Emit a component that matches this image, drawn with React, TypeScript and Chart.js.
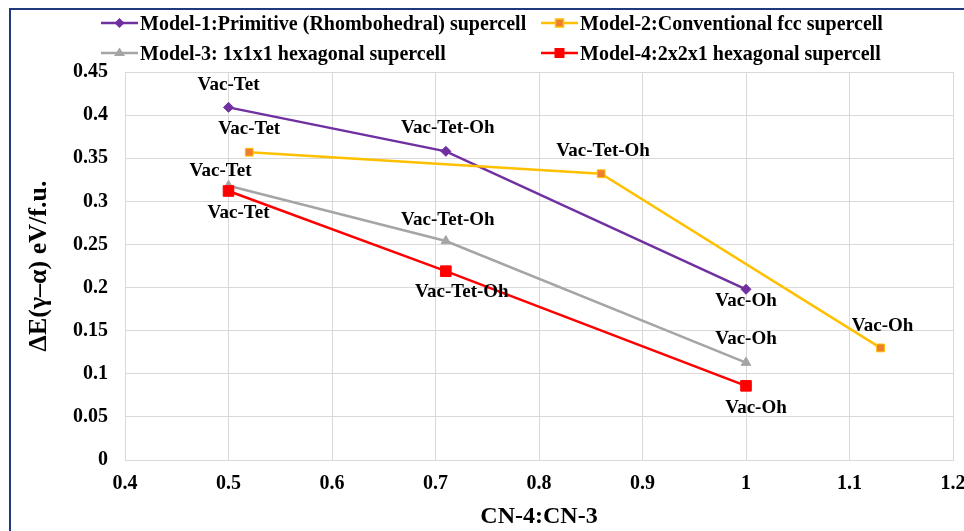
import React, { useEffect, useRef } from "react";
import { Chart, registerables } from "chart.js";

Chart.register(...registerables);

// CN-4:CN-3 ratio (x) and ΔE(γ–α) in eV/f.u. (y) for each supercell model
const model1X = [0.5, 0.71, 1.0];
const model1Y = [0.409, 0.358, 0.198];
const model1Sites = ["Vac-Tet", "Vac-Tet-Oh", "Vac-Oh"];

const model2X = [0.52, 0.86, 1.13];
const model2Y = [0.357, 0.332, 0.13];
const model2Sites = ["Vac-Tet", "Vac-Tet-Oh", "Vac-Oh"];

const model3X = [0.5, 0.71, 1.0];
const model3Y = [0.318, 0.254, 0.113];
const model3Sites = ["Vac-Tet", "Vac-Tet-Oh", "Vac-Oh"];

const model4X = [0.5, 0.71, 1.0];
const model4Y = [0.312, 0.219, 0.086];
const model4Sites = ["Vac-Tet", "Vac-Tet-Oh", "Vac-Oh"];

const seriesNames = [
  "Model-1:Primitive (Rhombohedral) supercell",
  "Model-2:Conventional fcc supercell",
  "Model-3: 1x1x1 hexagonal supercell",
  "Model-4:2x2x1 hexagonal supercell",
];

const xTitle = "CN-4:CN-3";
const yTitle = "ΔE(γ–α) eV/f.u.";

// label placement (pixel offsets from the point) per series
const labelOffsets: number[][][] = [
  [[0, -22], [2, -23], [0, 12]],
  [[0, -23], [2, -23], [2, -22]],
  [[-8, -15], [2, -21], [0, -23]],
  [[10, 22], [16, 21], [10, 22]],
];

const SERIF = '"Liberation Serif", "Times New Roman", serif';
const PURPLE = "#7030A0";
const GOLD = "#FFC000";
const ORANGE = "#ED7D31";
const GRAY = "#A5A5A5";
const RED = "#FF0000";
const GRID = "#D9D9D9";

const toPoints = (xs: number[], ys: number[]) => xs.map((x, i) => ({ x, y: ys[i] }));
const siteLists = [model1Sites, model2Sites, model3Sites, model4Sites];
const fmt = (v: number) => String(Number(Number(v).toFixed(2)));

const siteLabelPlugin = {
  id: "siteLabels",
  afterDatasetsDraw(chart: any) {
    const ctx = chart.ctx;
    ctx.save();
    ctx.font = `bold 19px ${SERIF}`;
    ctx.fillStyle = "#000";
    ctx.textAlign = "center";
    ctx.textBaseline = "middle";
    chart.data.datasets.forEach((_ds: any, di: number) => {
      const meta = chart.getDatasetMeta(di);
      meta.data.forEach((pt: any, i: number) => {
        const [dx, dy] = labelOffsets[di][i];
        ctx.fillText(siteLists[di][i], pt.x + dx, pt.y + dy);
      });
    });
    ctx.restore();
  },
};

function LegendMark({ kind }: { kind: number }) {
  const lineColor = [PURPLE, GOLD, GRAY, RED][kind];
  let mark: React.ReactNode = null;
  if (kind === 0) mark = <polygon points="18.5,3 23.5,8 18.5,13 13.5,8" fill={PURPLE} />;
  if (kind === 1) mark = <rect x={14.5} y={4} width={8} height={8} fill={ORANGE} stroke={GOLD} strokeWidth={1.5} />;
  if (kind === 2) mark = <polygon points="18.5,2.5 24,11 13,11" fill={GRAY} />;
  if (kind === 3) mark = <rect x={13.5} y={3} width={10} height={10} fill={RED} />;
  return (
    <svg width={37} height={16} style={{ display: "block" }}>
      <line x1={0} y1={8} x2={37} y2={8} stroke={lineColor} strokeWidth={2.5} />
      {mark}
    </svg>
  );
}

export default function App() {
  const canvasRef = useRef<HTMLCanvasElement | null>(null);

  useEffect(() => {
    if (!canvasRef.current) return;
    const common = { borderWidth: 2.5, tension: 0, showLine: true, pointBorderWidth: 1 };
    const chart = new Chart(canvasRef.current, {
      type: "scatter",
      data: {
        datasets: [
          {
            ...common,
            label: seriesNames[0],
            data: toPoints(model1X, model1Y),
            borderColor: PURPLE,
            backgroundColor: PURPLE,
            pointStyle: "rectRot",
            pointRadius: 5,
            order: 4,
          },
          {
            ...common,
            label: seriesNames[1],
            data: toPoints(model2X, model2Y),
            borderColor: GOLD,
            backgroundColor: ORANGE,
            pointBorderColor: GOLD,
            pointStyle: "rect",
            pointRadius: 5.5,
            order: 3,
          },
          {
            ...common,
            label: seriesNames[2],
            data: toPoints(model3X, model3Y),
            borderColor: GRAY,
            backgroundColor: GRAY,
            pointStyle: "triangle",
            pointRadius: 5.5,
            order: 2,
          },
          {
            ...common,
            label: seriesNames[3],
            data: toPoints(model4X, model4Y),
            borderColor: RED,
            backgroundColor: RED,
            pointStyle: "rect",
            pointRadius: 7.5,
            order: 1,
          },
        ],
      },
      options: {
        responsive: false,
        animation: false,
        devicePixelRatio: 1,
        layout: { padding: { left: 0, right: 11, top: 72, bottom: 0 } },
        plugins: { legend: { display: false }, tooltip: { enabled: false } },
        scales: {
          x: {
            type: "linear",
            min: 0.4,
            max: 1.2,
            ticks: {
              stepSize: 0.1,
              padding: 12,
              color: "#000",
              font: { family: SERIF, size: 20, weight: "bold" },
              callback: (v: any) => fmt(v),
            },
            grid: { color: GRID, lineWidth: 1, drawTicks: false },
            border: { display: true, color: GRID },
            title: {
              display: true,
              text: xTitle,
              color: "#000",
              font: { family: SERIF, size: 24, weight: "bold" },
              padding: { top: 0, bottom: 0 },
            },
            afterFit: (s: any) => {
              s.height = 71;
              s.paddingLeft = 0;
              s.paddingRight = 0;
            },
          },
          y: {
            type: "linear",
            min: 0,
            max: 0.45,
            ticks: {
              stepSize: 0.05,
              padding: 17,
              color: "#000",
              font: { family: SERIF, size: 20, weight: "bold" },
              callback: (v: any) => fmt(v),
            },
            grid: { color: GRID, lineWidth: 1, drawTicks: false },
            border: { display: true, color: GRID },
            title: {
              display: true,
              text: yTitle,
              color: "#000",
              font: { family: SERIF, size: 26, weight: "bold" },
              padding: { top: 24, bottom: 0 },
            },
            afterFit: (s: any) => {
              s.width = 125;
            },
          },
        },
      } as any,
      plugins: [siteLabelPlugin],
    });
    return () => chart.destroy();
  }, []);

  const legendItem = (i: number, left: number, top: number) => (
    <div
      key={i}
      style={{
        position: "absolute",
        left,
        top,
        height: 30,
        display: "flex",
        alignItems: "center",
        whiteSpace: "nowrap",
        font: `bold 20px ${SERIF}`,
        color: "#000",
      }}
    >
      <LegendMark kind={i} />
      <span style={{ marginLeft: 2 }}>{seriesNames[i]}</span>
    </div>
  );

  return (
    <div
      style={{
        position: "fixed",
        left: 0,
        top: 0,
        width: 964,
        height: 531,
        overflow: "hidden",
        background: "#fff",
      }}
    >
      <div
        style={{
          position: "absolute",
          left: 9,
          top: 8,
          width: 1000,
          height: 600,
          borderLeft: "2px solid #1F3A7A",
          borderTop: "2px solid #1F3A7A",
        }}
      />
      <canvas
        ref={canvasRef}
        width={964}
        height={531}
        style={{ position: "absolute", left: 0, top: 0, width: 964, height: 531 }}
      />
      {legendItem(0, 101, 8)}
      {legendItem(1, 541, 8)}
      {legendItem(2, 101, 38)}
      {legendItem(3, 541, 38)}
    </div>
  );
}
